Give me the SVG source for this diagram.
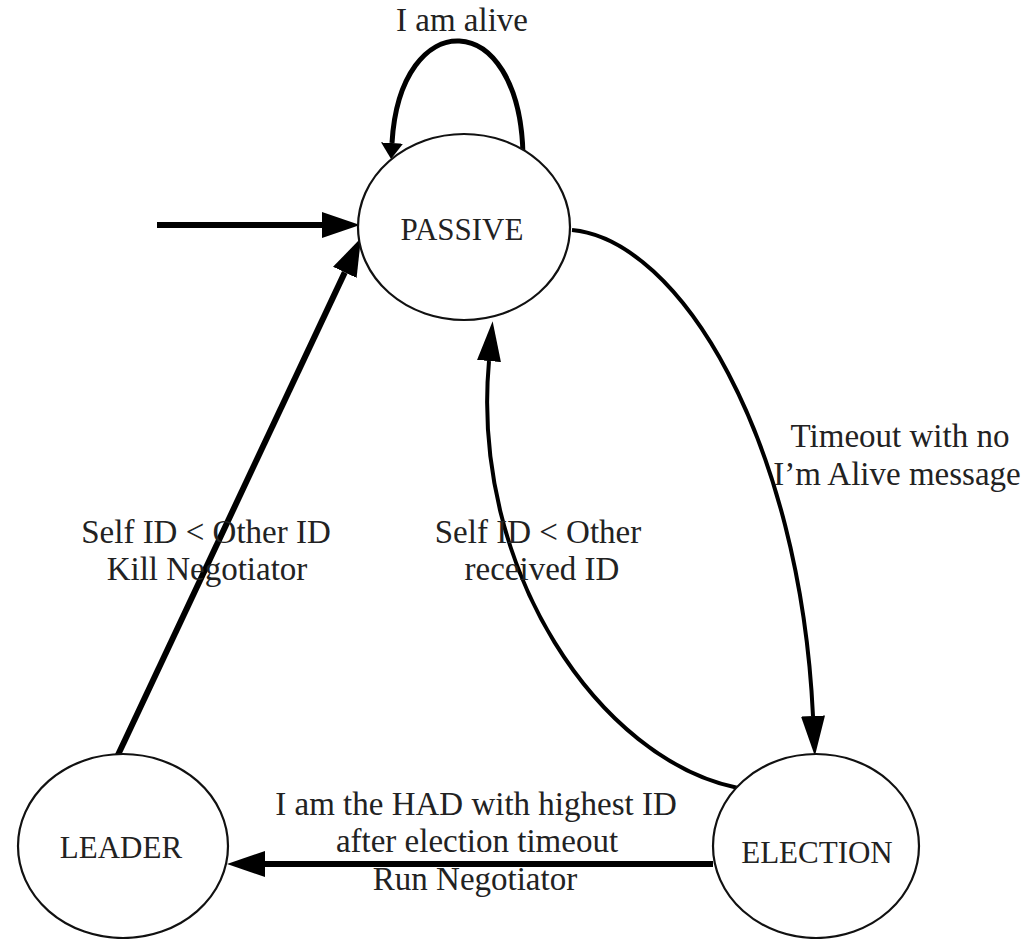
<svg xmlns="http://www.w3.org/2000/svg" width="1021" height="939" viewBox="0 0 1021 939">
<style>
.node{fill:#fff;stroke:#111;stroke-width:2.2}
.nl{font-family:"Liberation Serif","Times New Roman",serif;font-size:31px;fill:#222;text-anchor:middle}
.el{font-family:"Liberation Serif","Times New Roman",serif;font-size:33px;fill:#222;text-anchor:middle}
.thick{fill:none;stroke:#000;stroke-width:6}
.thin{fill:none;stroke:#000;stroke-width:4}
.loop{fill:none;stroke:#000;stroke-width:5}
</style>
<defs>
<marker id="big" markerUnits="userSpaceOnUse" markerWidth="40" markerHeight="26" refX="0" refY="13" orient="auto"><path d="M0,0 L38,13 L0,26 z" fill="#000"/></marker>
<marker id="mid" markerUnits="userSpaceOnUse" markerWidth="42" markerHeight="24" refX="0" refY="12" orient="auto"><path d="M0,0 L40,12 L0,24 z" fill="#000"/></marker>
<marker id="small" markerUnits="userSpaceOnUse" markerWidth="18" markerHeight="22" refX="0" refY="11" orient="auto"><path d="M0,0 L16,11 L0,22 z" fill="#000"/></marker>
</defs>
<g id="connectors">
<path class="thick" d="M157,225 L322,225" marker-end="url(#big)"/>
<path class="loop" d="M523,155 C520,5 400,5 392,143" marker-end="url(#small)"/>
<path class="thick" d="M117,757 L344.8,272.4" marker-end="url(#big)"/>
<path class="thin" d="M572,230 C680,240 800,440 813,716" marker-end="url(#mid)"/>
<path class="thin" d="M738,788 C600,760 470,570 489,361" marker-end="url(#mid)"/>
<path class="thick" d="M713,864 L265,864" marker-end="url(#big)"/>
</g>
<g id="passive"><ellipse class="node" cx="464" cy="227" rx="106" ry="93"/><text class="nl" x="462" y="240">PASSIVE</text></g>
<g id="leader"><ellipse class="node" cx="123" cy="846" rx="105" ry="92"/><text class="nl" x="121" y="858">LEADER</text></g>
<g id="election"><ellipse class="node" cx="816" cy="846" rx="103" ry="92"/><text class="nl" x="817" y="863">ELECTION</text></g>
<g id="labels">
<text class="el" x="462" y="31">I am alive</text>
<text class="el" x="206" y="543">Self ID &lt; Other ID</text>
<text class="el" x="207" y="580">Kill Negotiator</text>
<text class="el" x="538" y="543">Self ID &lt; Other</text>
<text class="el" x="542" y="580">received ID</text>
<text class="el" x="900" y="447">Timeout with no</text>
<text class="el" x="897" y="485">I’m Alive message</text>
<text class="el" x="476" y="815">I am the HAD with highest ID</text>
<text class="el" x="477" y="852">after election timeout</text>
<text class="el" x="475" y="890">Run Negotiator</text>
</g>
</svg>
